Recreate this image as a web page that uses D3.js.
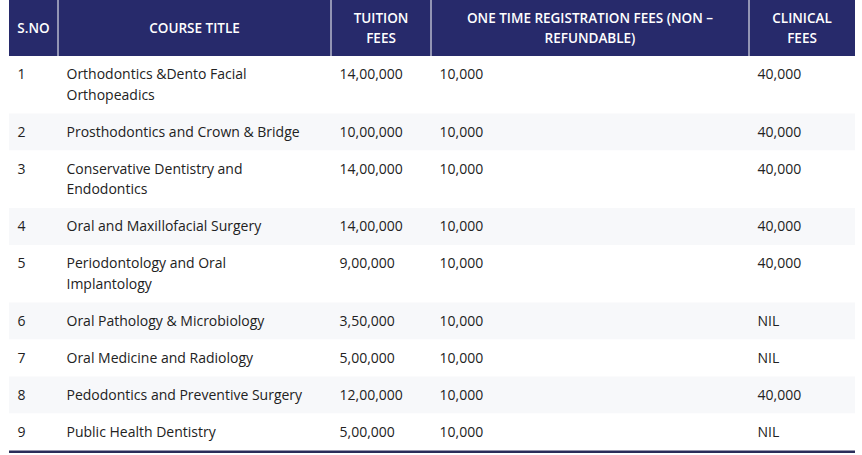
<!DOCTYPE html>
<html><head><meta charset="utf-8">
<script src="https://cdn.jsdelivr.net/npm/d3@7"></script>
<style>body{margin:0;background:#fff}text{font-family:"Open Sans",sans-serif}</style>
</head><body><svg id="t" width="862" height="455"></svg>
<script>
var headers = [["S.NO"], ["COURSE TITLE"], ["TUITION", "FEES"], ["ONE TIME REGISTRATION FEES (NON –", "REFUNDABLE)"], ["CLINICAL", "FEES"]];
var sno = ["1","2","3","4","5","6","7","8","9"];
var courses = [["Orthodontics &Dento Facial","Orthopeadics"],["Prosthodontics and Crown & Bridge"],["Conservative Dentistry and","Endodontics"],["Oral and Maxillofacial Surgery"],["Periodontology and Oral","Implantology"],["Oral Pathology & Microbiology"],["Oral Medicine and Radiology"],["Pedodontics and Preventive Surgery"],["Public Health Dentistry"]];
var tuition = ["14,00,000","10,00,000","14,00,000","14,00,000","9,00,000","3,50,000","5,00,000","12,00,000","5,00,000"];
var registration = ["10,000","10,000","10,000","10,000","10,000","10,000","10,000","10,000","10,000"];
var clinical = ["40,000","40,000","40,000","40,000","40,000","NIL","NIL","40,000","NIL"];

var colX = [9, 58, 331, 431, 749, 855];
var headH = 56, lineH = 20.5, padV = 16.5;
var svg = d3.select("#t");

// header
svg.append("rect").attr("x", 9).attr("y", 0).attr("width", 846).attr("height", headH).attr("fill", "#272a6b");
headers.forEach(function (h, i) {
  var cx = (colX[i] + colX[i + 1]) / 2;
  if (i > 0) svg.append("line").attr("x1", colX[i]).attr("x2", colX[i]).attr("y1", 0).attr("y2", headH).attr("stroke", "#fff").attr("stroke-width", 1);
  var y0 = headH / 2 - (h.length - 1) * lineH / 2 + 5;
  h.forEach(function (s, k) {
    svg.append("text").attr("x", cx).attr("y", y0 + k * lineH).attr("text-anchor", "middle")
      .attr("fill", "#fff").attr("font-size", 13.5).attr("font-weight", 600).text(s);
  });
});

// body rows
var y = headH;
sno.forEach(function (n, i) {
  var h = courses[i].length * lineH + padV;
  svg.append("rect").attr("x", 9).attr("y", y).attr("width", 846).attr("height", h).attr("fill", i % 2 ? "#f7f8fa" : "#fff");
  var cells = [[n], courses[i], [tuition[i]], [registration[i]], [clinical[i]]];
  cells.forEach(function (c, j) {
    c.forEach(function (s, k) {
      svg.append("text").attr("x", colX[j] + 8.5).attr("y", y + 23 + k * lineH)
        .attr("fill", "#222").attr("font-size", 14).text(s);
    });
  });
  y += h;
});
svg.append("rect").attr("x", 9).attr("y", y).attr("width", 846).attr("height", 2.5).attr("fill", "#2a2d5a");
</script></body></html>
